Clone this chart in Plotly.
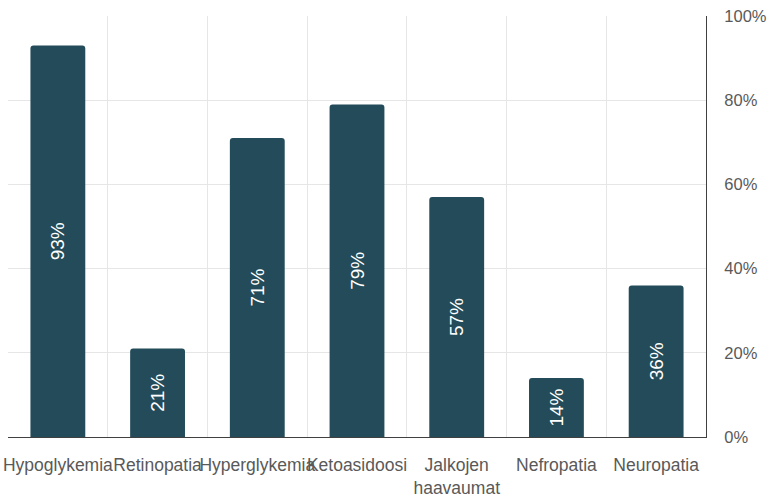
import plotly.graph_objects as go

categories = ["Hypoglykemia", "Retinopatia", "Hyperglykemia", "Ketoasidoosi",
              "Jalkojen<br>haavaumat", "Nefropatia", "Neuropatia"]
values = [93, 21, 71, 79, 57, 14, 36]
tick_vals = [0, 20, 40, 60, 80, 100]
tick_text = ["0%", "20%", "40%", "60%", "80%", "100%"]

fig = go.Figure(
    go.Bar(
        x=categories,
        y=values,
        text=[f"{v}%" for v in values],
        textposition="inside",
        insidetextanchor="middle",
        textangle=-90,
        textfont=dict(color="white", size=19, family="Liberation Sans, Arial"),
        marker=dict(color="#234b59", line=dict(width=0)),
        width=0.55,
        hoverinfo="skip",
    )
)

fig.update_layout(
    width=767,
    height=497,
    margin=dict(l=8, r=61, t=16, b=60),
    paper_bgcolor="white",
    plot_bgcolor="white",
    barcornerradius=3,
    showlegend=False,
    font=dict(family="Liberation Sans, Arial", color="#595959"),
)

fig.update_xaxes(
    type="category",
    automargin=False,
    tickson="boundaries",
    showgrid=True,
    gridcolor="#e6e6e6",
    gridwidth=1,
    showline=True,
    linecolor="#404040",
    linewidth=1,
    ticks="",
    ticklabelstandoff=12,
    tickfont=dict(size=17.5, color="#595959"),
    tickangle=0,
)

fig.update_yaxes(
    side="right",
    automargin=False,
    range=[0, 100],
    tickvals=tick_vals,
    ticktext=tick_text,
    showgrid=True,
    gridcolor="#e6e6e6",
    gridwidth=1,
    showline=True,
    linecolor="#404040",
    linewidth=1,
    zeroline=False,
    ticks="",
    ticklabelstandoff=14,
    tickfont=dict(size=16.5, color="#595959"),
)

fig.write_html("out.html")
